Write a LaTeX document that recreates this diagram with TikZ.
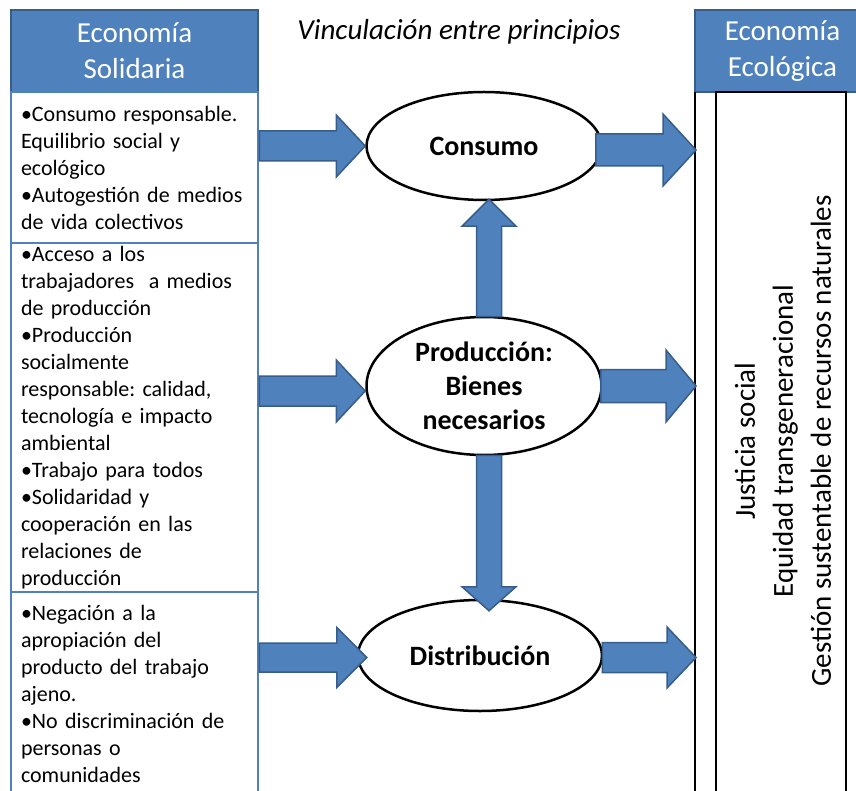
\documentclass[tikz,border=0pt]{standalone}
\usepackage{fontspec}
\setmainfont{Carlito}
\usetikzlibrary{calc,shapes.geometric}
\definecolor{ofblue}{HTML}{4F81BD}
\definecolor{ofblueline}{HTML}{385D8A}
\frenchspacing
\tikzstyle{headbox}=[rectangle,fill=ofblue,draw=ofblueline,line width=2pt,text=white,align=center,minimum height=82pt,inner sep=0pt,font=\fontsize{29}{36}\selectfont]
\tikzstyle{solbox}=[rectangle,draw=ofblue,line width=2.5pt,text width=227pt,inner xsep=10pt,inner ysep=0pt,align=left,font=\fontsize{22}{27}\selectfont]
\tikzstyle{principle}=[ellipse,draw=black,line width=2.5pt,fill=white,inner sep=0pt,align=center,font=\bfseries\fontsize{28}{34}\selectfont]
\tikzstyle{blockarrow}=[fill=ofblue,draw=ofblueline,line width=1.5pt,line join=miter]
\newcommand{\drawblockarrow}[5]{

\pgfmathsetmacro{\bodyw}{#3}
\pgfmathsetmacro{\headw}{#4}
\pgfmathsetmacro{\headl}{#5}
\coordinate (hb) at ($(#2)!\headl pt!(#1)$);
\draw[blockarrow] ($(#1)!\bodyw pt!90:(#2)$) -- ($(hb)!\bodyw pt!90:(#2)$) -- ($(hb)!\headw pt!90:(#2)$) -- (#2)
   -- ($(hb)!\headw pt!-90:(#2)$) -- ($(hb)!\bodyw pt!-90:(#2)$) -- ($(#1)!\bodyw pt!-90:(#2)$) -- cycle;

}
\begin{document}
\begin{tikzpicture}[x=1pt,y=-1pt]
	\useasboundingbox (0,0) rectangle (856,791);
	\clip (0,0) rectangle (856,791);
	% headers
	\node[headbox,minimum width=247pt] (solhead) at (134.5,51) {Economía\\Solidaria};
	\node[headbox,minimum width=175pt] (ecohead) at (782.5,51) {Economía\\Ecológica};
	\node[font=\itshape\fontsize{29}{34}\selectfont] (title) at (459,32) {Vinculación entre principios};
	% left column
	\node[solbox,minimum height=151pt] (sol1) at (134.5,167.5) {•Consumo responsable.\\Equilibrio social y\\ecológico\\•Autogestión de medios\\de vida colectivos};
	\node[solbox,minimum height=349pt] (sol2) at (134.5,417.5) {•Acceso a los\\trabajadores\ \ a medios\\de producción\\•Producción\\socialmente\\responsable: calidad,\\tecnología e impacto\\ambiental\\•Trabajo para todos\\•Solidaridad y\\cooperación en las\\relaciones de\\producción};
	\node[solbox,minimum height=203pt] (sol3) at (134.5,693.5) {•Negación a la\\apropiación del\\producto del trabajo\\ajeno.\\•No discriminación de\\personas o\\comunidades};
	% right column
	\node[rectangle,draw=black,line width=2.5pt,minimum width=130pt,minimum height=708pt,inner sep=0pt] (ecocol) at (781,446) {};
	\coordinate (ecotop) at (695,92);
	\draw[line width=2.5pt] (ecotop) -- (ecotop |- ecocol.south);
	\coordinate (ecoedge) at (696,92);
	\node[rotate=90,align=center,font=\fontsize{29}{38}\selectfont] (ecotxt) at (783,441) {Justicia social\\Equidad transgeneracional\\Gestión sustentable de recursos naturales};
	% principles
	\node[principle,minimum width=235pt,minimum height=108pt] (cons) at (484,146) {Consumo};
	\node[principle,minimum width=235pt,minimum height=138pt] (prod) at (484,386) {Producción:\\Bienes\\necesarios};
	\node[principle,minimum width=244pt,minimum height=111pt] (dist) at (480,655.5) {Distribución};
	% arrows
	\coordinate (c1s) at (sol1.east |- cons.west);
	\drawblockarrow{c1s}{cons.west}{15}{31}{29}
	\coordinate (p1t) at ($(prod.west)+(0,5)$);
	\coordinate (p1s) at (sol2.east |- p1t);
	\drawblockarrow{p1s}{p1t}{15}{31}{29}
	\coordinate (d1t) at ($(dist.west)+(10,2)$);
	\coordinate (d1s) at (sol3.east |- d1t);
	\drawblockarrow{d1s}{d1t}{14.5}{30}{30}
	\coordinate (c2s) at ($(cons.east)+(-7,4)$);
	\coordinate (c2t) at (c2s -| ecoedge);
	\drawblockarrow{c2s}{c2t}{16}{36}{33}
	\coordinate (p2s) at ($(prod.east)+(-2,0)$);
	\coordinate (p2t) at (p2s -| ecoedge);
	\drawblockarrow{p2s}{p2t}{16.5}{36}{30}
	\coordinate (d2s) at ($(dist.east)+(-1,2)$);
	\coordinate (d2t) at (d2s -| ecoedge);
	\drawblockarrow{d2s}{d2t}{15}{30.5}{29}
	\coordinate (pus) at ($(prod.north)+(5,1)$);
	\coordinate (put) at ($(cons.south)+(5,-2)$);
	\drawblockarrow{pus}{put}{12.5}{27}{27}
	\coordinate (pds) at ($(prod.south)+(5,-1)$);
	\coordinate (pdt) at ($(dist.north)+(9,12)$);
	\drawblockarrow{pds}{pdt}{12.5}{27}{24}
\end{tikzpicture}
\end{document}
